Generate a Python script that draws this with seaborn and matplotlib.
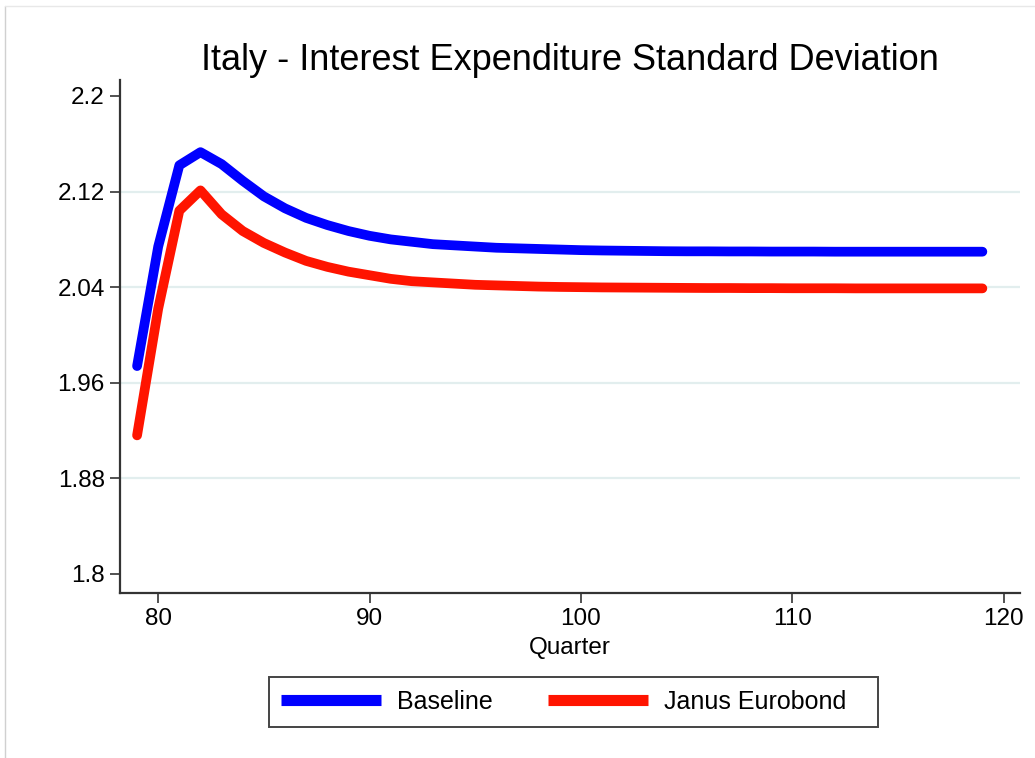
import numpy as np
import pandas as pd
import matplotlib
matplotlib.use("Agg")
import matplotlib.pyplot as plt
from matplotlib.lines import Line2D
from matplotlib.patches import Rectangle
import seaborn as sns

# Quarterly standard deviation of interest expenditure, Italy
quarters = list(range(79, 120))
baseline = [1.974, 2.074, 2.142, 2.153, 2.143, 2.129, 2.116, 2.106, 2.098, 2.092,
            2.087, 2.083, 2.080, 2.078, 2.076, 2.075, 2.074, 2.073, 2.0725, 2.072,
            2.0715, 2.071, 2.0707, 2.0705, 2.0703, 2.0701, 2.0700, 2.0700, 2.0699, 2.0699,
            2.0698, 2.0698, 2.0698, 2.0697, 2.0697, 2.0697, 2.0697, 2.0697, 2.0697, 2.0697,
            2.0697]
janus = [1.916, 2.022, 2.104, 2.121, 2.101, 2.087, 2.077, 2.069, 2.062, 2.057,
         2.053, 2.050, 2.047, 2.045, 2.044, 2.043, 2.042, 2.0415, 2.041, 2.0405,
         2.0402, 2.0400, 2.0398, 2.0397, 2.0396, 2.0395, 2.0394, 2.0393, 2.0393, 2.0392,
         2.0392, 2.0391, 2.0391, 2.0391, 2.0390, 2.0390, 2.0390, 2.0390, 2.0390, 2.0390,
         2.0390]
series_names = ["Baseline", "Janus Eurobond"]
series_colors = ["#0000ff", "#ff1400"]
y_ticks = [1.8, 1.88, 1.96, 2.04, 2.12, 2.2]
y_tick_labels = ["1.8", "1.88", "1.96", "2.04", "2.12", "2.2"]
x_ticks = [80, 90, 100, 110, 120]

df = pd.DataFrame({
    "Quarter": quarters * 2,
    "value": baseline + janus,
    "series": [series_names[0]] * len(quarters) + [series_names[1]] * len(quarters),
})

sns.set_style("white")
plt.rcParams["font.family"] = ["Liberation Sans", "DejaVu Sans"]
plt.rcParams["text.color"] = "black"
plt.rcParams["axes.labelcolor"] = "black"
plt.rcParams["xtick.color"] = "black"
plt.rcParams["ytick.color"] = "black"

fig = plt.figure(figsize=(10.35, 7.58), dpi=100)
ax = fig.add_axes([0.1159, 0.2177, 0.8696, 0.6768])

# light grid at the inner y ticks
for yv in y_ticks[1:-1]:
    ax.axhline(yv, color="#e2eeee", lw=1.6, zorder=0)

sns.lineplot(data=df, x="Quarter", y="value", hue="series",
             palette=dict(zip(series_names, series_colors)),
             linewidth=7, legend=False, ax=ax, sort=False)
for ln in ax.get_lines()[-2:]:
    ln.set_solid_capstyle("round")
    ln.set_solid_joinstyle("round")

ax.set_xlim(78.19, 120.78)
ax.set_ylim(1.7841, 2.2134)
ax.set_yticks(y_ticks)
ax.set_yticklabels(y_tick_labels)
ax.set_xticks(x_ticks)
ax.tick_params(axis="both", direction="out", length=7, width=1.2, color="#333333",
               labelsize=17.5, pad=4, left=True, bottom=True)
for s in ["top", "right"]:
    ax.spines[s].set_visible(False)
for s in ["left", "bottom"]:
    ax.spines[s].set_color("#333333")
    ax.spines[s].set_linewidth(1.6)

ax.set_xlabel("Quarter", fontsize=17.5, labelpad=5)
ax.set_ylabel("")
ax.set_title("Italy - Interest Expenditure Standard Deviation", fontsize=26, pad=7,
             color="black")

# legend entries below the plot, inside a plain rectangular box
handles = [Line2D([0], [0], color=c, lw=8, solid_capstyle="butt") for c in series_colors]
leg = fig.legend(handles, series_names, loc="center", bbox_to_anchor=(0.5449, 0.0739),
                 ncol=2, fontsize=18, frameon=False, handlelength=4.0,
                 columnspacing=2.2, handletextpad=0.64, borderpad=0, borderaxespad=0)
fig.add_artist(Rectangle((269 / 1035, 1 - 727 / 758), 609 / 1035, 50 / 758,
                         transform=fig.transFigure, fill=False,
                         edgecolor="#444444", linewidth=1.4))

# thin frame along the left and top edges
fig.add_artist(Line2D([0.005, 0.005], [0.0, 0.992], color="#d0d0d0", lw=1))
fig.add_artist(Line2D([0.005, 1.0], [0.992, 0.992], color="#e8e8e8", lw=1))

fig.savefig("out.png", dpi=100)
